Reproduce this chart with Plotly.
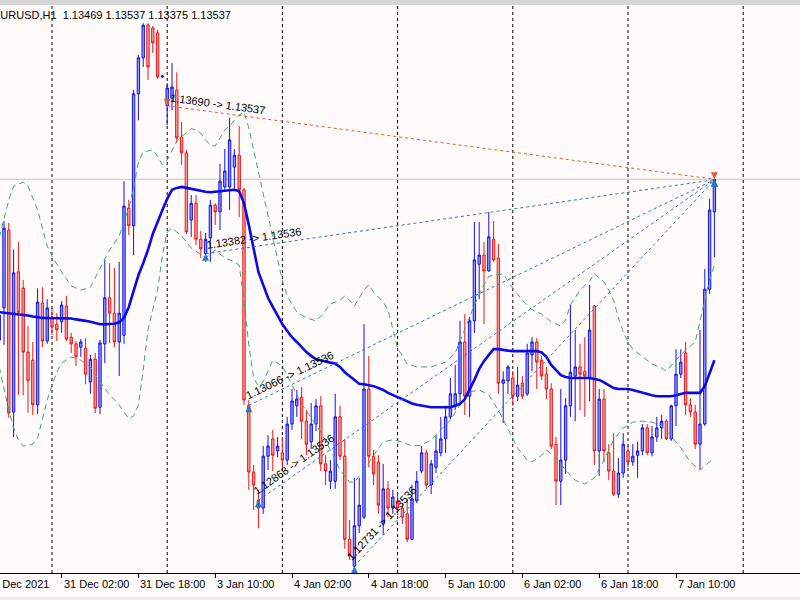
import math
import plotly.graph_objects as go

symbol = "EURUSD"
timeframe = "H1"

# hourly bars; index 0 = 30 Dec 2021 13:00 (weekend bars absent)
opens = [1.13202, 1.13269, 1.13431, 1.13052, 1.13344, 1.13310, 1.13177, 1.13160, 1.13067, 1.13279,
         1.13200, 1.13250, 1.13235, 1.13240, 1.13273, 1.13208, 1.13194, 1.13187, 1.13185, 1.13115,
         1.13162, 1.13062, 1.13194, 1.13290, 1.13258, 1.13198, 1.13212, 1.13477, 1.13440, 1.13715,
         1.13790, 1.13858, 1.13852, 1.13842, 1.13750, 1.13690, 1.13706, 1.13723, 1.13625, 1.13592,
         1.13452, 1.13487, 1.13412, 1.13382, 1.13415, 1.13483, 1.13469, 1.13521, 1.13521, 1.13562,
         1.13587, 1.13515, 1.13066, 1.12927, 1.12868, 1.12852, 1.12960, 1.12996, 1.12971, 1.12967,
         1.12952, 1.13027, 1.13065, 1.13083, 1.13033, 1.12990, 1.13027, 1.13065, 1.12944, 1.12908,
         1.12908, 1.13042, 1.12960, 1.12787, 1.12731, 1.12815, 1.12833, 1.13100, 1.12960, 1.12948,
         1.12819, 1.12892, 1.12852, 1.12867, 1.12852, 1.12840, 1.12787, 1.12867, 1.12929, 1.12967,
         1.12900, 1.12937, 1.12967, 1.12996, 1.13042, 1.13065, 1.13090, 1.13198, 1.13085, 1.13242,
         1.13360, 1.13379, 1.13346, 1.13412, 1.13373, 1.13112, 1.13117, 1.13123, 1.13085, 1.13112,
         1.13090, 1.13171, 1.13198, 1.13160, 1.13131, 1.13100, 1.12985, 1.12908, 1.12952, 1.13065,
         1.13127, 1.13146, 1.13137, 1.13123, 1.13273, 1.12971, 1.13079, 1.12967, 1.12929, 1.12881,
         1.12925, 1.12971, 1.12948, 1.12962, 1.12971, 1.13019, 1.12967, 1.13000, 1.13019, 1.13033,
         1.12996, 1.13065, 1.13131, 1.13175, 1.13067, 1.13052, 1.12985, 1.13027, 1.13308, 1.13469]
highs = [1.13269, 1.13450, 1.13446, 1.13390, 1.13406, 1.13327, 1.13231, 1.13198, 1.13310, 1.13312,
         1.13287, 1.13269, 1.13258, 1.13283, 1.13294, 1.13217, 1.13200, 1.13204, 1.13206, 1.13171,
         1.13175, 1.13202, 1.13369, 1.13362, 1.13352, 1.13365, 1.13533, 1.13494, 1.13723, 1.13796,
         1.13862, 1.13862, 1.13856, 1.13848, 1.13754, 1.13737, 1.13779, 1.13760, 1.13656, 1.13598,
         1.13504, 1.13504, 1.13429, 1.13425, 1.13494, 1.13487, 1.13569, 1.13600, 1.13665, 1.13600,
         1.13648, 1.13519, 1.13077, 1.12942, 1.12890, 1.12981, 1.13004, 1.13015, 1.13000, 1.13000,
         1.13042, 1.13100, 1.13098, 1.13104, 1.13056, 1.13071, 1.13079, 1.13085, 1.12962, 1.12952,
         1.13090, 1.13065, 1.12996, 1.12827, 1.12915, 1.12915, 1.13235, 1.13169, 1.12973, 1.12962,
         1.12944, 1.12908, 1.12890, 1.12881, 1.12862, 1.12871, 1.12900, 1.12929, 1.12981, 1.12973,
         1.12952, 1.13004, 1.13042, 1.13065, 1.13123, 1.13150, 1.13242, 1.13256, 1.13250, 1.13448,
         1.13448, 1.13406, 1.13469, 1.13450, 1.13402, 1.13137, 1.13150, 1.13137, 1.13146, 1.13127,
         1.13194, 1.13208, 1.13206, 1.13169, 1.13146, 1.13112, 1.13000, 1.13100, 1.13081, 1.13275,
         1.13223, 1.13194, 1.13208, 1.13317, 1.13275, 1.13100, 1.13100, 1.12985, 1.13008, 1.12956,
         1.13008, 1.12983, 1.12985, 1.12990, 1.13027, 1.13027, 1.13023, 1.13042, 1.13046, 1.13037,
         1.13067, 1.13183, 1.13183, 1.13198, 1.13081, 1.13067, 1.13223, 1.13350, 1.13496, 1.13537]
lows = [1.13175, 1.13192, 1.13040, 1.13000, 1.13087, 1.13087, 1.13050, 1.13046, 1.13048, 1.13187,
        1.13194, 1.13212, 1.13200, 1.13217, 1.13200, 1.13175, 1.13148, 1.13167, 1.13110, 1.13090,
        1.13050, 1.13048, 1.13154, 1.13196, 1.13187, 1.13127, 1.13194, 1.13421, 1.13379, 1.13660,
        1.13771, 1.13744, 1.13800, 1.13746, 1.13748, 1.13650, 1.13681, 1.13612, 1.13567, 1.13423,
        1.13417, 1.13400, 1.13373, 1.13365, 1.13365, 1.13442, 1.13431, 1.13515, 1.13473, 1.13517,
        1.13458, 1.13067, 1.12890, 1.12848, 1.12810, 1.12840, 1.12931, 1.12929, 1.12958, 1.12933,
        1.12942, 1.13015, 1.13042, 1.12996, 1.12962, 1.12975, 1.13012, 1.12929, 1.12900, 1.12892,
        1.12892, 1.12952, 1.12767, 1.12744, 1.12722, 1.12800, 1.12829, 1.12937, 1.12900, 1.12840,
        1.12796, 1.12833, 1.12840, 1.12837, 1.12819, 1.12781, 1.12785, 1.12862, 1.12925, 1.12892,
        1.12881, 1.12925, 1.12960, 1.12967, 1.13037, 1.13056, 1.13071, 1.13046, 1.13042, 1.13217,
        1.13287, 1.13235, 1.13344, 1.13365, 1.13090, 1.13029, 1.13090, 1.13065, 1.13075, 1.13079,
        1.13085, 1.13137, 1.13100, 1.13119, 1.13079, 1.12975, 1.12858, 1.12858, 1.12923, 1.13042,
        1.13033, 1.13056, 1.13042, 1.13075, 1.12942, 1.12919, 1.12948, 1.12910, 1.12877, 1.12873,
        1.12915, 1.12937, 1.12940, 1.12915, 1.12962, 1.12962, 1.12960, 1.12990, 1.12996, 1.12994,
        1.12992, 1.13023, 1.13123, 1.13046, 1.13042, 1.12975, 1.12933, 1.13023, 1.13298, 1.13375]
closes = [1.13254, 1.13435, 1.13050, 1.13342, 1.13260, 1.13177, 1.13117, 1.13067, 1.13281, 1.13200,
          1.13269, 1.13229, 1.13223, 1.13275, 1.13204, 1.13194, 1.13167, 1.13198, 1.13131, 1.13162,
          1.13060, 1.13196, 1.13290, 1.13258, 1.13198, 1.13258, 1.13481, 1.13440, 1.13715, 1.13790,
          1.13858, 1.13771, 1.13821, 1.13750, 1.13752, 1.13727, 1.13729, 1.13623, 1.13592, 1.13427,
          1.13487, 1.13412, 1.13392, 1.13412, 1.13483, 1.13469, 1.13533, 1.13554, 1.13619, 1.13587,
          1.13515, 1.13077, 1.12927, 1.12900, 1.12852, 1.12960, 1.12981, 1.12962, 1.12981, 1.12952,
          1.13027, 1.13075, 1.13079, 1.13033, 1.12985, 1.13027, 1.13065, 1.12944, 1.12929, 1.12929,
          1.13042, 1.12960, 1.12787, 1.12752, 1.12815, 1.12858, 1.13100, 1.12960, 1.12923, 1.12858,
          1.12892, 1.12852, 1.12875, 1.12852, 1.12833, 1.12787, 1.12871, 1.12908, 1.12967, 1.12900,
          1.12944, 1.12971, 1.12996, 1.13042, 1.13090, 1.13090, 1.13198, 1.13085, 1.13242, 1.13369,
          1.13379, 1.13346, 1.13417, 1.13369, 1.13112, 1.13119, 1.13146, 1.13085, 1.13108, 1.13085,
          1.13175, 1.13198, 1.13156, 1.13127, 1.13100, 1.12981, 1.12908, 1.12952, 1.13065, 1.13135,
          1.13146, 1.13131, 1.13127, 1.13223, 1.12971, 1.13079, 1.12971, 1.12929, 1.12881, 1.12925,
          1.12985, 1.12948, 1.12960, 1.12971, 1.13019, 1.12967, 1.13000, 1.13019, 1.13033, 1.12996,
          1.13065, 1.13131, 1.13156, 1.13067, 1.13052, 1.12985, 1.13027, 1.13308, 1.13473, 1.13537]

ma_values = [1.13260, 1.13259, 1.13258, 1.13257, 1.13256, 1.13254, 1.13253, 1.13251, 1.13249, 1.13248,
             1.13248, 1.13248, 1.13248, 1.13248, 1.13247, 1.13247, 1.13245, 1.13244, 1.13242, 1.13240,
             1.13237, 1.13235, 1.13235, 1.13235, 1.13236, 1.13239, 1.13248, 1.13271, 1.13304, 1.13337,
             1.13362, 1.13390, 1.13423, 1.13450, 1.13473, 1.13496, 1.13515, 1.13519, 1.13521, 1.13519,
             1.13517, 1.13515, 1.13512, 1.13511, 1.13510, 1.13511, 1.13512, 1.13514, 1.13515, 1.13515,
             1.13512, 1.13487, 1.13442, 1.13392, 1.13344, 1.13317, 1.13290, 1.13271, 1.13252, 1.13235,
             1.13221, 1.13208, 1.13198, 1.13187, 1.13177, 1.13169, 1.13162, 1.13160, 1.13157, 1.13155,
             1.13153, 1.13146, 1.13135, 1.13127, 1.13117, 1.13111, 1.13110, 1.13108, 1.13106, 1.13102,
             1.13098, 1.13092, 1.13087, 1.13083, 1.13079, 1.13074, 1.13070, 1.13067, 1.13065, 1.13064,
             1.13062, 1.13062, 1.13062, 1.13062, 1.13062, 1.13065, 1.13069, 1.13079, 1.13098, 1.13119,
             1.13142, 1.13158, 1.13171, 1.13183, 1.13183, 1.13181, 1.13180, 1.13179, 1.13179, 1.13179,
             1.13179, 1.13179, 1.13179, 1.13176, 1.13167, 1.13150, 1.13140, 1.13129, 1.13125, 1.13123,
             1.13123, 1.13123, 1.13123, 1.13123, 1.13121, 1.13119, 1.13114, 1.13108, 1.13102, 1.13100,
             1.13100, 1.13100, 1.13098, 1.13095, 1.13092, 1.13090, 1.13087, 1.13085, 1.13085, 1.13085,
             1.13085, 1.13087, 1.13090, 1.13092, 1.13092, 1.13092, 1.13092, 1.13106, 1.13135, 1.13160]

upper_idx = [0, 2, 3, 5, 6, 7, 8, 9, 10, 11, 13, 15, 17, 19, 20, 22, 23, 25, 26, 27, 28, 29, 30, 31, 32,
             33, 34, 35, 36, 37, 38, 39, 40, 41, 42, 43, 44, 45, 46, 47, 48, 49, 50, 51, 52, 53, 54, 55,
             56, 57, 58, 59, 60, 62, 64, 66, 67, 69, 71, 72, 73, 74, 76, 77, 78, 80, 81, 82, 83, 85, 87,
             90, 93, 95, 97, 99, 101, 102, 105, 107, 109, 111, 113, 115, 117, 118, 119, 121, 123, 124,
             126, 127, 128, 129, 130, 131, 132, 134, 136, 138, 139, 141, 143, 145, 146, 147, 148, 149]
upper_vals = [1.13415, 1.13494, 1.13523, 1.13531, 1.13523, 1.13498, 1.13473, 1.13435, 1.13398, 1.13377,
              1.13344, 1.13315, 1.13306, 1.13312, 1.13331, 1.13369, 1.13390, 1.13419, 1.13448, 1.13477,
              1.13519, 1.13573, 1.13594, 1.13596, 1.13598, 1.13585, 1.13567, 1.13577, 1.13598, 1.13617,
              1.13627, 1.13633, 1.13642, 1.13640, 1.13633, 1.13619, 1.13608, 1.13606, 1.13623, 1.13640,
              1.13648, 1.13660, 1.13671, 1.13677, 1.13644, 1.13598, 1.13552, 1.13502, 1.13462, 1.13410,
              1.13369, 1.13325, 1.13294, 1.13260, 1.13248, 1.13242, 1.13252, 1.13277, 1.13285, 1.13294,
              1.13285, 1.13273, 1.13306, 1.13317, 1.13302, 1.13281, 1.13265, 1.13223, 1.13185, 1.13152,
              1.13146, 1.13146, 1.13156, 1.13175, 1.13223, 1.13275, 1.13317, 1.13335, 1.13340, 1.13310,
              1.13285, 1.13265, 1.13256, 1.13240, 1.13231, 1.13244, 1.13275, 1.13306, 1.13325, 1.13340,
              1.13323, 1.13306, 1.13285, 1.13248, 1.13219, 1.13198, 1.13183, 1.13167, 1.13152, 1.13144,
              1.13137, 1.13160, 1.13181, 1.13198, 1.13244, 1.13285, 1.13327, 1.13358]
lower_idx = [0, 1, 2, 3, 4, 5, 7, 8, 9, 10, 11, 12, 13, 15, 17, 19, 21, 23, 25, 27, 28, 29, 30, 31, 32,
             33, 34, 35, 36, 38, 40, 42, 43, 45, 47, 49, 50, 51, 52, 53, 54, 55, 57, 59, 61, 63, 65, 67,
             69, 71, 73, 74, 76, 78, 80, 82, 84, 86, 88, 90, 92, 94, 96, 98, 100, 102, 104, 106, 108,
             110, 111, 113, 114, 116, 118, 120, 122, 124, 126, 128, 130, 132, 134, 136, 138, 140, 142,
             144, 146, 147, 149]
lower_vals = [1.13146, 1.13098, 1.13056, 1.13019, 1.12994, 1.12981, 1.12985, 1.12998, 1.13035, 1.13077,
              1.13108, 1.13135, 1.13154, 1.13167, 1.13160, 1.13146, 1.13115, 1.13088, 1.13067, 1.13038,
              1.13044, 1.13067, 1.13140, 1.13223, 1.13265, 1.13306, 1.13379, 1.13427, 1.13435, 1.13419,
              1.13394, 1.13379, 1.13373, 1.13390, 1.13373, 1.13365, 1.13358, 1.13285, 1.13192, 1.13123,
              1.13106, 1.13115, 1.13160, 1.13148, 1.13108, 1.13069, 1.13040, 1.13010, 1.12973, 1.12931,
              1.12906, 1.12906, 1.12931, 1.12962, 1.12990, 1.12994, 1.12990, 1.12981, 1.12983, 1.12994,
              1.13015, 1.13035, 1.13067, 1.13094, 1.13098, 1.13088, 1.13056, 1.13015, 1.12977, 1.12952,
              1.12948, 1.12962, 1.12973, 1.12956, 1.12931, 1.12910, 1.12902, 1.12915, 1.12952, 1.12994,
              1.13019, 1.13031, 1.13033, 1.13031, 1.13023, 1.13002, 1.12977, 1.12948, 1.12931, 1.12940,
              1.12956]

day_start_idx = [11, 35, 59, 83, 107, 131, 155]
tick_idx = [-3, 13, 29, 45, 61, 77, 93, 109, 125, 141]
tick_labels = ["30 Dec 2021", "31 Dec 02:00", "31 Dec 18:00", "3 Jan 10:00", "4 Jan 02:00",
               "4 Jan 18:00", "5 Jan 10:00", "6 Jan 02:00", "6 Jan 18:00", "7 Jan 10:00"]
bid_price = 1.13537

sell_open_idx = [35]
sell_open_price = [1.13690]
sell_close_idx = [149]
sell_close_price = [1.13537]
buy_open_idx = [43, 52, 54, 74]
buy_open_price = [1.13382, 1.13066, 1.12868, 1.12731]
buy_close_idx = [149, 149, 149, 149]
buy_close_price = [1.13536, 1.13536, 1.13536, 1.13536]

# ---------------- layout geometry ----------------
W, H = 800, 600
m_l, m_r, m_t, m_b = 0, 0, 5, 27
plot_w = W - m_l - m_r
plot_h = H - m_t - m_b
x_range = [0.1667, 166.833]
y_range = [1.127167, 1.13900]
px_per_bar = plot_w / (x_range[1] - x_range[0])
px_per_price = plot_h / (y_range[1] - y_range[0])

BG = "#fffbfb"
FONT = "Liberation Sans, Arial, sans-serif"
RED_TRADE = "#e8592a"
BLUE_TRADE = "#2a78c2"

x = list(range(len(opens)))
fig = go.Figure()

fig.add_trace(go.Candlestick(
    x=x, open=opens, high=highs, low=lows, close=closes,
    increasing=dict(line=dict(color="#1010f0", width=1), fillcolor="#9a9af5"),
    decreasing=dict(line=dict(color="#f01414", width=1), fillcolor="#f5a0a0"),
    whiskerwidth=0, hoverinfo="skip", showlegend=False))

band_style = dict(color="#3aa86e", width=1, dash="6px,4px")
fig.add_trace(go.Scatter(x=upper_idx, y=upper_vals, mode="lines", line=band_style,
                         hoverinfo="skip", showlegend=False))
fig.add_trace(go.Scatter(x=lower_idx, y=lower_vals, mode="lines", line=band_style,
                         hoverinfo="skip", showlegend=False))
fig.add_trace(go.Scatter(x=x, y=ma_values, mode="lines", line=dict(color="#0a0ae8", width=2.6),
                         hoverinfo="skip", showlegend=False))


def trade_lines(oi, op, ci, cp):
    xs, ys = [], []
    for a, b, c, d in zip(oi, op, ci, cp):
        xs += [a, c, None]
        ys += [b, d, None]
    return xs, ys


sx, sy = trade_lines(sell_open_idx, sell_open_price, sell_close_idx, sell_close_price)
fig.add_trace(go.Scatter(x=sx, y=sy, mode="lines", line=dict(color=RED_TRADE, width=1, dash="3px,3px"),
                         hoverinfo="skip", showlegend=False))
bx, by = trade_lines(buy_open_idx, buy_open_price, buy_close_idx, buy_close_price)
fig.add_trace(go.Scatter(x=bx, y=by, mode="lines", line=dict(color=BLUE_TRADE, width=1, dash="3px,3px"),
                         hoverinfo="skip", showlegend=False))

fig.add_trace(go.Scatter(x=sell_open_idx + sell_close_idx, y=sell_open_price + sell_close_price,
                         mode="markers", marker=dict(symbol="arrow-down", size=7, color=RED_TRADE),
                         hoverinfo="skip", showlegend=False))
fig.add_trace(go.Scatter(x=buy_open_idx + buy_close_idx, y=buy_open_price + buy_close_price,
                         mode="markers", marker=dict(symbol="arrow-up", size=7, color=BLUE_TRADE),
                         hoverinfo="skip", showlegend=False))

annotations = []


def label_for(oi, op, ci, cp):
    dxp = (ci - oi) * px_per_bar
    dyp = (cp - op) * px_per_price
    ang = math.atan2(dyp, dxp)
    along, perp = 50, 9
    cx = along * math.cos(ang) - perp * math.sin(ang)
    cy = along * math.sin(ang) + perp * math.cos(ang)
    return dict(x=oi + cx / px_per_bar, y=op + cy / px_per_price, xref="x", yref="y",
                text=f"{op:.5f} -> {cp:.5f}", showarrow=False, textangle=-math.degrees(ang),
                xanchor="center", yanchor="middle", font=dict(family=FONT, size=11, color="black"))


for a, b, c, d in zip(sell_open_idx, sell_open_price, sell_close_idx, sell_close_price):
    annotations.append(label_for(a, b, c, d))
for a, b, c, d in zip(buy_open_idx, buy_open_price, buy_close_idx, buy_close_price):
    annotations.append(label_for(a, b, c, d))

for ti, tl in zip(tick_idx, tick_labels):
    px = (ti - x_range[0]) / (x_range[1] - x_range[0])
    annotations.append(dict(x=px, y=0, xref="paper", yref="paper", text=tl, showarrow=False,
                            xanchor="left", yanchor="top", xshift=0, yshift=-3,
                            font=dict(family=FONT, size=11, color="black")))

nb = "\u00a0"
header = (f"{symbol},{timeframe}{nb}{nb}{opens[-1]:.5f} {highs[-1]:.5f} "
          f"{lows[-1]:.5f} {closes[-1]:.5f}").replace(" ", nb)
annotations.append(dict(x=0, y=1, xref="paper", yref="paper", text=header, showarrow=False,
                        xanchor="left", yanchor="top", xshift=-9, yshift=-2,
                        font=dict(family=FONT, size=11, color="black")))

shapes = []
for d in day_start_idx:
    shapes.append(dict(type="line", xref="x", yref="paper", x0=d, x1=d, y0=0, y1=1,
                       line=dict(color="black", width=1, dash="3px,3px"), layer="below"))
shapes.append(dict(type="line", xref="paper", yref="y", x0=0, x1=1, y0=bid_price, y1=bid_price,
                   line=dict(color="#c4c4c4", width=1), layer="below"))
# window top border and bottom strip
shapes.append(dict(type="rect", xref="paper", yref="paper", x0=0, x1=1, y0=1, y1=1 + m_t / plot_h,
                   fillcolor="#d6d6d6", line=dict(width=0), layer="above"))
shapes.append(dict(type="rect", xref="paper", yref="paper", x0=0, x1=1,
                   y0=-(m_b - 3) / plot_h, y1=-m_b / plot_h,
                   fillcolor="#ececec", line=dict(width=0), layer="above"))

fig.update_layout(
    width=W, height=H, autosize=False,
    margin=dict(l=m_l, r=m_r, t=m_t, b=m_b, pad=0),
    paper_bgcolor=BG, plot_bgcolor=BG,
    showlegend=False, hovermode=False,
    xaxis=dict(range=x_range, showgrid=False, zeroline=False, showline=True, linecolor="black",
               linewidth=1, ticks="outside", ticklen=4, tickcolor="black", tickwidth=1,
               tickvals=tick_idx[1:], showticklabels=False, rangeslider=dict(visible=False),
               fixedrange=True),
    yaxis=dict(range=y_range, showgrid=False, zeroline=False, showticklabels=False,
               showline=False, ticks="", fixedrange=True),
    annotations=annotations, shapes=shapes,
)

fig.write_html("out.html")
